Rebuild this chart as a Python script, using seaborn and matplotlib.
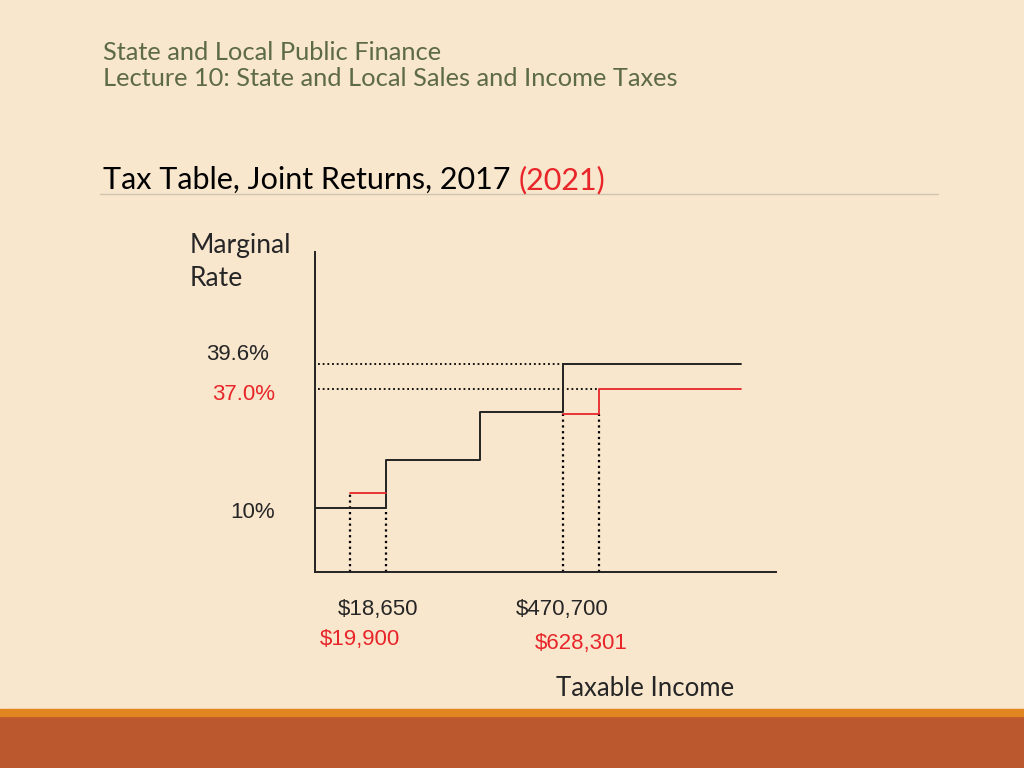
import numpy as np
import pandas as pd
import seaborn as sns
import matplotlib.pyplot as plt
from matplotlib.patches import Rectangle

sns.set_theme(style="white")
plt.rcParams['font.family'] = ['Lato', 'DejaVu Sans']

# schematic step chart, axis units 0-100 on both axes
black_x = [0, 15.3, 35.9, 53.8, 92.5]
black_y = [20, 35, 50, 65, 65]
red_low_x = [7.6, 15.3]
red_low_y = [24.6, 24.6]
red_high_x = [53.8, 61.6, 92.5]
red_high_y = [49.5, 57.3, 57.3]

# guide lines (dotted)
guide_x = [7.6, 15.3, 53.8, 61.6]
guide_x_top = [24.6, 20, 50, 49.5]
guide_y = [65, 57.3]
guide_y_end = [53.8, 61.6]

header = ['State and Local Public Finance',
          'Lecture 10: State and Local Sales and Income Taxes']
title_main = 'Tax Table, Joint Returns, 2017 '
title_red = '(2021)'
rate_labels = ['39.6%', '37.0%', '10%']
income_labels = ['$18,650', '$19,900', '$470,700', '$628,301']

BG = '#f8e6cd'
RED = '#e8262a'
W, H = 1024, 768


def fx(px):
    return px / W


def fy(py):
    return 1 - py / H


fig = plt.figure(figsize=(10.24, 7.68), dpi=100, facecolor=BG)

# bottom band
fig.patches.append(Rectangle((0, 0), 1, fy(716), transform=fig.transFigure,
                             color='#bc582d', zorder=0))
fig.patches.append(Rectangle((0, fy(716)), 1, 7 / H, transform=fig.transFigure,
                             color='#e0851f', zorder=0))

ax = fig.add_axes([fx(315), fy(572), 461 / W, 320 / H])
ax.set_facecolor('none')
ax.set_xlim(0, 100)
ax.set_ylim(0, 100)

sns.lineplot(x=black_x, y=black_y, drawstyle='steps-post', color='#222222',
             lw=1.4, ax=ax)
sns.lineplot(x=red_low_x, y=red_low_y, drawstyle='steps-post', color=RED,
             lw=1.3, ax=ax)
sns.lineplot(x=red_high_x, y=red_high_y, drawstyle='steps-post', color=RED,
             lw=1.3, ax=ax)

dots = (0, (1, 1.6))
ax.vlines(guide_x, 0, guide_x_top, color='black', lw=1.6, linestyles=[dots], zorder=1)
ax.hlines(guide_y, 0.6, guide_y_end, color='black', lw=1.3, linestyles=[dots], zorder=1)

ax.set_xticks([])
ax.set_yticks([])
ax.set_xlabel('')
ax.set_ylabel('')
sns.despine(ax=ax)
for s in ['left', 'bottom']:
    ax.spines[s].set_color('#222222')
    ax.spines[s].set_linewidth(1.4)

# header
fig.text(fx(103), fy(52), header[0], fontsize=18.3, color='#5d6a48', va='center')
fig.text(fx(103), fy(79), header[1], fontsize=18.3, color='#5d6a48', va='center')

# title with red year
t = fig.text(fx(103), fy(180), title_main, fontsize=22, color='black', va='center')
fig.canvas.draw()
bb = t.get_window_extent()
fig.text(bb.x1 / W, fy(180), title_red, fontsize=22, color=RED, va='center')
fig.lines.append(plt.Line2D([fx(100), fx(938)], [fy(194), fy(194)],
                            transform=fig.transFigure, color='#cfc5b3', lw=1))

fig.text(fx(190), fy(245), 'Marginal', fontsize=19, va='center')
fig.text(fx(190), fy(279), 'Rate', fontsize=19, va='center')

arial = ['Liberation Sans', 'DejaVu Sans']
fig.text(fx(238), fy(354), rate_labels[0], fontsize=16, ha='center', va='center', family=arial)
fig.text(fx(244), fy(395), rate_labels[1], fontsize=16, ha='center', va='center', family=arial, color=RED)
fig.text(fx(253), fy(513), rate_labels[2], fontsize=16, ha='center', va='center', family=arial)

fig.text(fx(378), fy(610), income_labels[0], fontsize=16, ha='center', va='center', family=arial)
fig.text(fx(360), fy(639), income_labels[1], fontsize=16, ha='center', va='center', family=arial, color=RED)
fig.text(fx(562), fy(610), income_labels[2], fontsize=16, ha='center', va='center', family=arial)
fig.text(fx(581), fy(643), income_labels[3], fontsize=16, ha='center', va='center', family=arial, color=RED)

fig.text(fx(645), fy(689), 'Taxable Income', fontsize=18.5, ha='center', va='center')

fig.savefig('out.png', dpi=100, facecolor=BG)
